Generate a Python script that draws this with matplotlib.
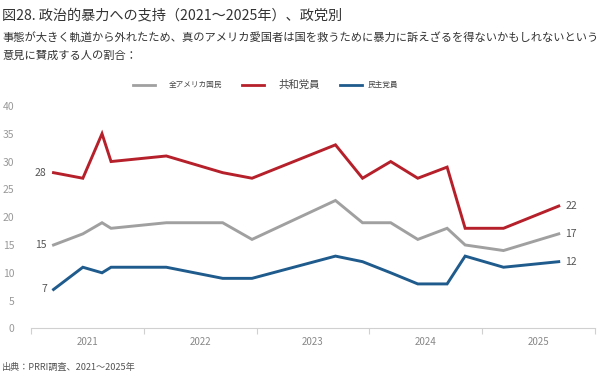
import matplotlib.pyplot as plt

plt.rcParams['font.family'] = ['Noto Sans CJK JP', 'DejaVu Sans']

# survey dates as decimal years
x = [2021.20, 2021.46, 2021.63, 2021.71, 2022.20, 2022.70, 2022.96, 2023.70,
     2023.94, 2024.19, 2024.43, 2024.69, 2024.85, 2025.19, 2025.68]
all_us = [15, 17, 19, 18, 19, 19, 16, 23, 19, 19, 16, 18, 15, 14, 17]
rep = [28, 27, 35, 30, 31, 28, 27, 33, 27, 30, 27, 29, 18, 18, 22]
dem = [7, 11, 10, 11, 11, 9, 9, 13, 12, 10, 8, 8, 13, 11, 12]
years = [2021, 2022, 2023, 2024, 2025]
names = ['全アメリカ国民', '共和党員', '民主党員']
colors = ['#a0a0a0', '#b5202a', '#1f5b8c']

fig = plt.figure(figsize=(6.05, 3.81), dpi=100)
ax = fig.add_axes([0.0512, 0.138, 0.932, 0.584])

for ys, c in zip([all_us, rep, dem], colors):
    ax.plot(x, ys, color=c, lw=2.1, solid_joinstyle='miter')
    ax.text(x[0] - 0.06, ys[0], str(ys[0]), ha='right', va='center',
            fontsize=7.5, color='#555555')
    ax.text(x[-1] + 0.06, ys[-1], str(ys[-1]), ha='left', va='center',
            fontsize=7.5, color='#555555')

ax.set_xlim(2021, 2026)
ax.set_ylim(0, 40)
ax.set_yticks(range(0, 41, 5))
ax.set_xticks(years + [2026])
ax.set_xticklabels([])
ax.set_xticks([y + 0.5 for y in years], minor=True)
ax.set_xticklabels([str(y) for y in years], minor=True)
ax.tick_params(axis='x', which='major', length=4, color='#d0d0d0')
ax.tick_params(axis='x', which='minor', length=0, labelsize=7, labelcolor='#888888', pad=6)
ax.tick_params(axis='y', length=0, labelsize=7.5, labelcolor='#999999', pad=12)
for s in ['top', 'right', 'left']:
    ax.spines[s].set_visible(False)
ax.spines['bottom'].set_color('#d0d0d0')

fig.text(0.004, 0.978, '図28. 政治的暴力への支持（2021～2025年）、政党別',
         fontsize=10.2, color='#333333', va='top')
fig.text(0.004, 0.917, '事態が大きく軌道から外れたため、真のアメリカ愛国者は国を救うために暴力に訴えざるを得ないかもしれないという',
         fontsize=8.1, color='#333333', va='top')
fig.text(0.004, 0.867, '意見に賛成する人の割合：', fontsize=8.1, color='#333333', va='top')

# legend
leg_x = [(0.220, 0.278), (0.400, 0.460), (0.562, 0.607)]
leg_fs = [5.5, 7.5, 5.5]
for (lx, tx), name, c, fs in zip(leg_x, names, colors, leg_fs):
    fig.add_artist(plt.Line2D([lx, lx + 0.036], [0.778, 0.778], color=c, lw=2.0,
                              transform=fig.transFigure))
    fig.text(tx, 0.778, name, fontsize=fs, color='#444444', va='center')

fig.text(0.004, 0.03, '出典：PRRI調査、2021～2025年', fontsize=6.6, color='#555555')

fig.savefig('out.png', dpi=100)
